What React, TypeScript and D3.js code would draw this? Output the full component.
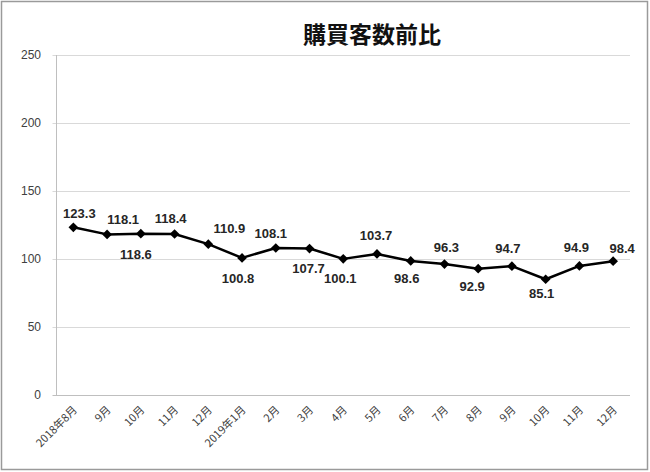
import React from "react";
import * as d3 from "d3";

const categories = ["2018年8月", "9月", "10月", "11月", "12月", "2019年1月", "2月", "3月", "4月", "5月", "6月", "7月", "8月", "9月", "10月", "11月", "12月"];
const values = [123.3, 118.1, 118.6, 118.4, 110.9, 100.8, 108.1, 107.7, 100.1, 103.7, 98.6, 96.3, 92.9, 94.7, 85.1, 94.9, 98.4];
const yTicks = [0, 50, 100, 150, 200, 250];
// label offsets relative to the marker (label placement styling)
const labelOffsets: [number, number][] = [
  [6, -14], [16, -15], [-5, 21], [-4, -15], [21, -16], [-4, 21], [-5, -14], [-1, 20], [-3, 20],
  [-1, -18], [-4, 18], [2, -17], [-6, 18], [-4, -18], [-4, 14], [-3, -18], [9, -13],
];

const W = 650, H = 472;
const left = 56.5, right = 630, top = 55, bottom = 395;

export default function App() {
  const x = d3.scaleBand<number>().domain(d3.range(categories.length)).range([left, right]);
  const y = d3.scaleLinear().domain([0, 250]).range([bottom, top]);
  const cx = (i: number) => (x(i) as number) + x.bandwidth() / 2;
  const line = d3.line<number>().x((_, i) => cx(i)).y((d) => y(d));
  const diamond = d3.symbol().type(d3.symbolDiamond2).size(60)() as string;

  return (
    <svg width={W} height={H} style={{ position: "absolute", left: 0, top: 0, fontFamily: "'Liberation Sans', Arial, sans-serif" }}>
      <rect x={0} y={0} width={W} height={H} fill="#fff" />
      <rect x={1.5} y={1.5} width={W - 4} height={H - 4} fill="none" stroke="#9a9a9a" strokeWidth={1.5} />
      <text x={372} y={33} textAnchor="middle" dominantBaseline="central" fontSize={23} fontWeight="bold" fontFamily="'Noto Sans CJK JP', sans-serif" fill="#111">
        購買客数前比
      </text>
      {yTicks.map((t) => (
        <g key={t}>
          <line x1={left - 4} x2={right} y1={Math.round(y(t)) + 0.5} y2={Math.round(y(t)) + 0.5} stroke={t === 0 ? "#bfbfbf" : "#d9d9d9"} strokeWidth={1} />
          <text x={41} y={y(t)} textAnchor="end" dominantBaseline="central" fontSize={12} fill="#404040">{t}</text>
        </g>
      ))}
      <line x1={left} x2={left} y1={top} y2={bottom} stroke="#bfbfbf" strokeWidth={1} />
      {categories.map((c, i) => (
        <text key={i} transform={`translate(${cx(i) + 1},${bottom + 12}) rotate(-45)`} textAnchor="end" dominantBaseline="central" fontSize={11} fill="#404040" fontFamily="'Noto Sans CJK JP', sans-serif">{c}</text>
      ))}
      <path d={line(values) as string} fill="none" stroke="#000" strokeWidth={2.5} strokeLinejoin="round" />
      {values.map((v, i) => (
        <path key={i} d={diamond} transform={`translate(${cx(i)},${y(v)})`} fill="#000" />
      ))}
      {values.map((v, i) => (
        <text key={i} x={cx(i) + labelOffsets[i][0]} y={y(v) + labelOffsets[i][1]} textAnchor="middle" dominantBaseline="central" fontSize={13} fontWeight="bold" fill="#262626">
          {v.toFixed(1)}
        </text>
      ))}
    </svg>
  );
}
